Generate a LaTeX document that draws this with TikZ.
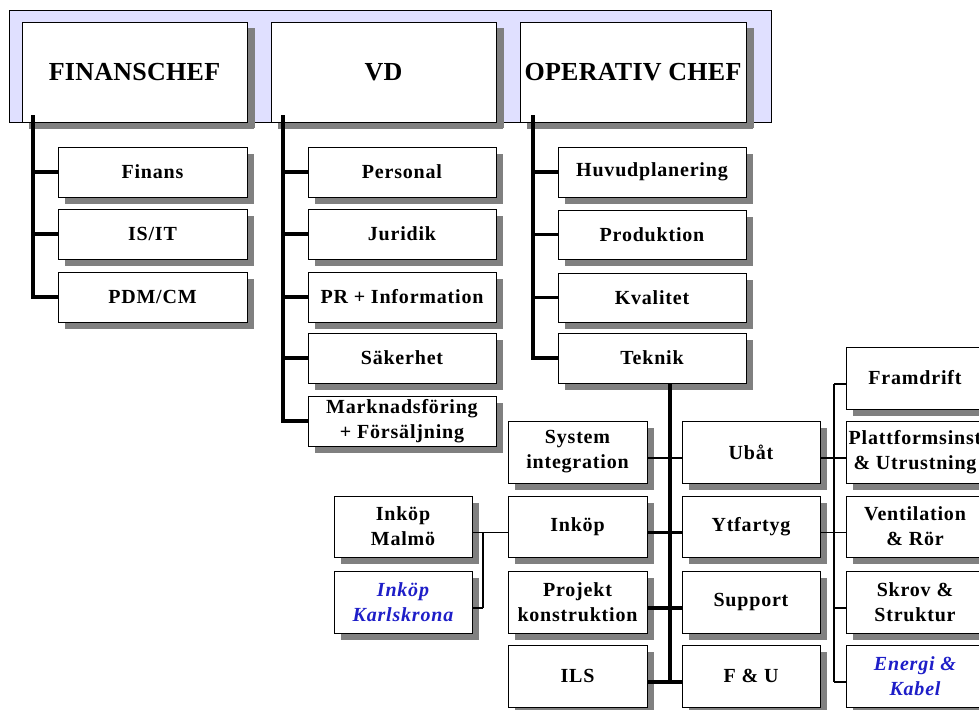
\documentclass[tikz,border=0pt]{standalone}
\usepackage{fontspec}
\setmainfont{Liberation Serif}
\newfontfamily\unitfamily[LetterSpace=4.0]{Liberation Serif}
\newfontfamily\headfamily[LetterSpace=1.0]{Liberation Serif}
\usetikzlibrary{shadows}
\definecolor{panelfill}{RGB}{224,224,255}
\definecolor{shadowgray}{RGB}{128,128,128}
\definecolor{linkblue}{RGB}{30,30,200}
\newcommand{\headfont}{\headfamily\fontsize{26}{29}\selectfont\bfseries}
\newcommand{\unitfont}{\unitfamily\fontsize{20}{25}\selectfont\bfseries}
\tikzset{
  box/.style={draw=black, line width=0.9pt, fill=white, inner sep=0pt,
    outer sep=0pt, anchor=north west, align=center, font=\unitfont,
    drop shadow={shadow xshift=7pt, shadow yshift=-7pt,
      fill=shadowgray, opacity=1}},
  headbox/.style={box, font=\headfont, minimum height=100pt,
    drop shadow={shadow xshift=8pt, shadow yshift=-6pt,
      fill=shadowgray, opacity=1}},
  bluetext/.style={font=\unitfont\itshape, text=linkblue},
  trunk/.style={line width=3.2pt, draw=black},
  link/.style={line width=2.4pt, draw=black},
  thinlink/.style={line width=1.2pt, draw=black},
}
\begin{document}
\begin{tikzpicture}[x=1pt, y=-1pt]
\useasboundingbox (0,0) rectangle (979,709);
\clip (0,0) rectangle (979,709);
\fill[white] (0,0) rectangle (979,709);

% management panel
\draw[fill=panelfill, line width=0.9pt] (9,10) rectangle (771,122);

% start points of the three management columns
\coordinate (fa) at (33,115);
\coordinate (va) at (283,115);
\coordinate (oa) at (533,115);

% management boxes
\node[headbox, minimum width=225pt] (fin) at (22,22) {FINANSCHEF};
\node[headbox, minimum width=225pt] (vd) at (271,22) {VD};
\node[headbox, minimum width=226pt] (op) at (520,22) {OPERATIV CHEF};

% finance column
\node[box, minimum width=189pt, minimum height=50pt] (finans) at (58,147) {Finans};
\node[box, minimum width=189pt, minimum height=50pt] (isit) at (58,209) {IS/IT};
\node[box, minimum width=189pt, minimum height=50pt] (pdm) at (58,272) {PDM/CM};

% CEO column
\node[box, minimum width=188pt, minimum height=50pt] (pers) at (308,147) {Personal};
\node[box, minimum width=188pt, minimum height=50pt] (jur) at (308,209) {Juridik};
\node[box, minimum width=188pt, minimum height=50pt] (pr) at (308,272) {PR + Information};
\node[box, minimum width=188pt, minimum height=50pt] (sak) at (308,333) {Säkerhet};
\node[box, minimum width=188pt, minimum height=50pt] (mark) at (308,396) {Marknadsföring\\+ Försäljning};

% operations column
\node[box, minimum width=188pt, minimum height=50pt] (huvud) at (558,147) {Huvudplanering};
\node[box, minimum width=188pt, minimum height=49pt] (prod) at (558,210) {Produktion};
\node[box, minimum width=188pt, minimum height=49pt] (kval) at (558,273) {Kvalitet};
\node[box, minimum width=188pt, minimum height=50pt] (tek) at (558,333) {Teknik};

% column connectors
\draw[trunk] (fa) |- (pdm.west);
\draw[trunk] (fa |- finans.west) -- (finans.west);
\draw[trunk] (fa |- isit.west) -- (isit.west);

\draw[trunk] (va) |- (mark.west);
\draw[trunk] (va |- pers.west) -- (pers.west);
\draw[trunk] (va |- jur.west) -- (jur.west);
\draw[trunk] (va |- pr.west) -- (pr.west);
\draw[trunk] (va |- sak.west) -- (sak.west);

\draw[trunk] (oa) |- (tek.west);
\draw[trunk] (oa |- huvud.west) -- (huvud.west);
\draw[trunk] (oa |- prod.west) -- (prod.west);
\draw[trunk] (oa |- kval.west) -- (kval.west);

% engineering: trunk and side rails
\coordinate (ta) at (670,383);
\coordinate (tb) at (670,682);
\coordinate (ra) at (834,384);
\coordinate (rb) at (834,682);
\coordinate (la) at (483,532);
\coordinate (lb) at (483,608);

\draw[trunk] (ta) -- (tb);
\draw[thinlink] (ra) -- (rb);
\draw[thinlink] (la) -- (lb);

\node[box, minimum width=139pt, minimum height=62pt] (sys) at (508,421) {System\\integration};
\node[box, minimum width=139pt, minimum height=61pt] (ink) at (508,496) {Inköp};
\node[box, minimum width=139pt, minimum height=62pt] (proj) at (508,571) {Projekt\\konstruktion};
\node[box, minimum width=139pt, minimum height=62pt] (ils) at (508,645) {ILS};

\node[box, minimum width=138pt, minimum height=62pt] (ubat) at (682,421) {Ubåt};
\node[box, minimum width=138pt, minimum height=61pt] (ytf) at (682,496) {Ytfartyg};
\node[box, minimum width=138pt, minimum height=62pt] (sup) at (682,571) {Support};
\node[box, minimum width=138pt, minimum height=62pt] (fou) at (682,645) {F \& U};

\node[box, minimum width=138pt, minimum height=62pt] (fram) at (846,347) {Framdrift};
\node[box, minimum width=138pt, minimum height=62pt] (plat) at (846,421) {Plattformsinst\\\& Utrustning};
\node[box, minimum width=138pt, minimum height=61pt] (vent) at (846,496) {Ventilation\\\& Rör};
\node[box, minimum width=138pt, minimum height=62pt] (skrov) at (846,571) {Skrov \&\\Struktur};
\node[box, minimum width=138pt, minimum height=62pt, bluetext] (energi) at (846,645) {Energi \&\\Kabel};

\node[box, minimum width=138pt, minimum height=61pt] (malmo) at (334,496) {Inköp\\Malmö};
\node[box, minimum width=138pt, minimum height=62pt, bluetext] (karls) at (334,571) {Inköp\\Karlskrona};

% branches across the engineering trunk
\draw[link] ([yshift=-6pt]sys.east) -- ([yshift=-6pt]ubat.west);
\draw[trunk] ([yshift=-6pt]ink.east) -- ([yshift=-6pt]ytf.west);
\draw[trunk] ([yshift=-6pt]proj.east) -- ([yshift=-6pt]sup.west);
\draw[trunk] ([yshift=-6pt]ils.east) -- ([yshift=-6pt]fou.west);

% systems branches on the right
\draw[thinlink] ([yshift=-6pt]fram.west) -- ([yshift=-6pt]fram.west -| ra);
\draw[thinlink] ([yshift=-6pt]ubat.east) -- ([yshift=-6pt]plat.west);
\draw[thinlink] ([yshift=-6pt]ytf.east) -- ([yshift=-6pt]vent.west);
\draw[thinlink] ([yshift=-6pt]skrov.west) -- ([yshift=-6pt]skrov.west -| ra);
\draw[thinlink] ([yshift=-6pt]energi.west) -- ([yshift=-6pt]energi.west -| ra);

% purchasing branches on the left
\draw[thinlink] ([yshift=-6pt]malmo.east) -- ([yshift=-6pt]ink.west);
\draw[thinlink] ([yshift=-6pt]karls.east) -- ([yshift=-6pt]karls.east -| la);
\end{tikzpicture}
\end{document}
